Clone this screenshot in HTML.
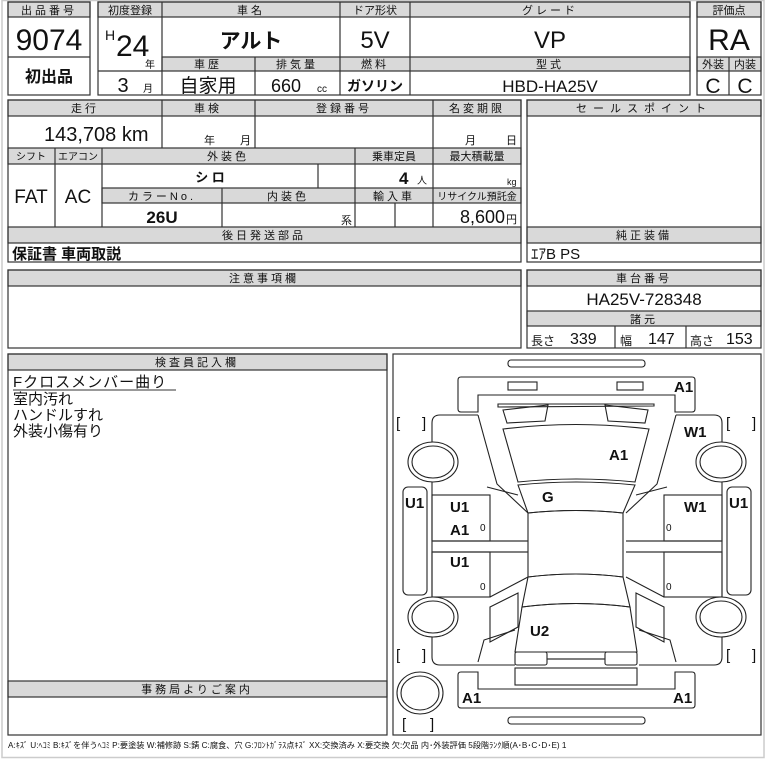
<!DOCTYPE html>
<html><head><meta charset="utf-8">
<style>
html,body{margin:0;padding:0;background:#fff;}
svg{display:block;}
text{font-family:"Liberation Sans","Noto Sans CJK JP",sans-serif;fill:#111;}
.h{fill:#d9d9d9;stroke:#333;stroke-width:1.2;}
.b{fill:none;stroke:#333;stroke-width:1.2;}
.l{stroke:#333;stroke-width:1.2;}
.d{fill:none;stroke:#222;stroke-width:1.1;}
.w{fill:#fff;stroke:#222;stroke-width:1.1;}
.s{font-size:11px;letter-spacing:3px;}
</style></head><body>
<svg width="784" height="763" viewBox="0 0 784 763" xmlns="http://www.w3.org/2000/svg">
<rect x="2" y="0.5" width="762" height="757" fill="none" stroke="#ccc" stroke-width="1.5"/>

<!-- 出品番号 -->
<rect class="h" x="8" y="2" width="82" height="15"/>
<rect class="b" x="8" y="2" width="82" height="93"/>
<line class="l" x1="8" y1="57" x2="90" y2="57"/>
<text x="49" y="14" text-anchor="middle" class="s">出品番号</text>
<text x="49" y="50" text-anchor="middle" font-size="30">9074</text>
<text x="49" y="82" text-anchor="middle" font-size="16" font-weight="bold">初出品</text>

<!-- main -->
<rect class="h" x="98" y="2" width="592" height="15"/>
<rect class="h" x="162" y="57" width="528" height="14"/>
<rect class="b" x="98" y="2" width="592" height="93"/>
<line class="l" x1="162" y1="2" x2="162" y2="95"/>
<line class="l" x1="340" y1="2" x2="340" y2="95"/>
<line class="l" x1="410" y1="2" x2="410" y2="95"/>
<line class="l" x1="255" y1="57" x2="255" y2="95"/>
<line class="l" x1="98" y1="71" x2="162" y2="71"/>
<text x="130" y="14" text-anchor="middle" font-size="11">初度登録</text>
<text x="251" y="14" text-anchor="middle" class="s">車名</text>
<text x="375" y="14" text-anchor="middle" font-size="11">ドア形状</text>
<text x="550" y="14" text-anchor="middle" class="s">グレード</text>
<text x="105" y="40" font-size="14">H</text>
<text x="116" y="56" font-size="30">24</text>
<text x="150" y="68" text-anchor="middle" font-size="10">年</text>
<text x="123" y="92" text-anchor="middle" font-size="20">3</text>
<text x="148" y="92" text-anchor="middle" font-size="10">月</text>
<text x="251" y="48" text-anchor="middle" font-size="21" font-weight="bold">アルト</text>
<text x="375" y="48" text-anchor="middle" font-size="24">5V</text>
<text x="550" y="48" text-anchor="middle" font-size="24">VP</text>
<text x="208" y="68" text-anchor="middle" class="s">車歴</text>
<text x="297" y="68" text-anchor="middle" class="s">排気量</text>
<text x="375" y="68" text-anchor="middle" class="s">燃料</text>
<text x="550" y="68" text-anchor="middle" class="s">型式</text>
<text x="208" y="92" text-anchor="middle" font-size="19">自家用</text>
<text x="286" y="92" text-anchor="middle" font-size="18">660</text>
<text x="322" y="92" text-anchor="middle" font-size="10">cc</text>
<text x="375" y="91" text-anchor="middle" font-size="14" font-weight="bold">ガソリン</text>
<text x="550" y="92" text-anchor="middle" font-size="17">HBD-HA25V</text>

<!-- 評価点 -->
<rect class="h" x="697" y="2" width="64" height="15"/>
<rect class="h" x="697" y="57" width="64" height="14"/>
<rect class="b" x="697" y="2" width="64" height="93"/>
<line class="l" x1="729" y1="57" x2="729" y2="95"/>
<text x="729" y="14" text-anchor="middle" font-size="11">評価点</text>
<text x="729" y="50" text-anchor="middle" font-size="30">RA</text>
<text x="713" y="68" text-anchor="middle" font-size="11">外装</text>
<text x="745" y="68" text-anchor="middle" font-size="11">内装</text>
<text x="713" y="93" text-anchor="middle" font-size="21">C</text>
<text x="745" y="93" text-anchor="middle" font-size="21">C</text>

<!-- section 2 left -->
<rect class="h" x="8" y="100" width="513" height="16"/>
<rect class="h" x="8" y="148" width="513" height="16"/>
<rect class="h" x="102" y="188" width="419" height="15"/>
<rect class="h" x="8" y="227" width="513" height="16"/>
<rect class="b" x="8" y="100" width="513" height="162"/>
<line class="l" x1="162" y1="100" x2="162" y2="148"/>
<line class="l" x1="255" y1="100" x2="255" y2="148"/>
<line class="l" x1="433" y1="100" x2="433" y2="227"/>
<line class="l" x1="55" y1="148" x2="55" y2="227"/>
<line class="l" x1="102" y1="148" x2="102" y2="227"/>
<line class="l" x1="355" y1="148" x2="355" y2="227"/>
<line class="l" x1="318" y1="164" x2="318" y2="188"/>
<line class="l" x1="222" y1="188" x2="222" y2="227"/>
<line class="l" x1="395" y1="203" x2="395" y2="227"/>
<text x="85" y="112" text-anchor="middle" class="s">走行</text>
<text x="208" y="112" text-anchor="middle" class="s">車検</text>
<text x="344" y="112" text-anchor="middle" class="s">登録番号</text>
<text x="477" y="112" text-anchor="middle" class="s">名変期限</text>
<text x="44" y="141" font-size="20">143,708 km</text>
<text x="204" y="144" font-size="11">年</text>
<text x="240" y="144" font-size="11">月</text>
<text x="465" y="144" font-size="11">月</text>
<text x="506" y="144" font-size="11">日</text>
<text x="31" y="160" text-anchor="middle" font-size="10">シフト</text>
<text x="78" y="160" text-anchor="middle" font-size="10">エアコン</text>
<text x="228" y="160" text-anchor="middle" class="s">外装色</text>
<text x="394" y="160" text-anchor="middle" font-size="11">乗車定員</text>
<text x="477" y="160" text-anchor="middle" font-size="11">最大積載量</text>
<text x="31" y="203" text-anchor="middle" font-size="19">FAT</text>
<text x="78" y="203" text-anchor="middle" font-size="19">AC</text>
<text x="210" y="182" text-anchor="middle" font-size="13" font-weight="bold">シ ロ</text>
<text x="399" y="184" font-size="17" font-weight="bold">4</text>
<text x="417" y="184" font-size="10">人</text>
<text x="507" y="185" font-size="9">kg</text>
<text x="162" y="200" text-anchor="middle" class="s">カラーNo.</text>
<text x="288" y="200" text-anchor="middle" class="s">内装色</text>
<text x="394" y="200" text-anchor="middle" class="s">輸入車</text>
<text x="477" y="200" text-anchor="middle" font-size="10">リサイクル預託金</text>
<text x="162" y="223" text-anchor="middle" font-size="17" font-weight="bold">26U</text>
<text x="341" y="224" font-size="11">系</text>
<text x="505" y="223" text-anchor="end" font-size="18">8,600</text>
<text x="506" y="223" font-size="11">円</text>
<text x="264" y="239" text-anchor="middle" class="s">後日発送部品</text>
<text x="12" y="259" font-size="15" font-weight="bold">保証書 車両取説</text>

<!-- section 2 right -->
<rect class="h" x="527" y="100" width="234" height="16"/>
<rect class="h" x="527" y="227" width="234" height="16"/>
<rect class="b" x="527" y="100" width="234" height="162"/>
<text x="644" y="112" text-anchor="middle" font-size="11" letter-spacing="6">セールスポイント</text>
<text x="644" y="239" text-anchor="middle" class="s">純正装備</text>
<text x="531" y="259" font-size="15">ｴｱB PS</text>

<!-- section 3 -->
<rect class="h" x="8" y="270" width="513" height="16"/>
<rect class="b" x="8" y="270" width="513" height="78"/>
<text x="264" y="282" text-anchor="middle" class="s">注意事項欄</text>
<rect class="h" x="527" y="270" width="234" height="16"/>
<rect class="h" x="527" y="311" width="234" height="15"/>
<rect class="b" x="527" y="270" width="234" height="78"/>
<line class="l" x1="615" y1="326" x2="615" y2="348"/>
<line class="l" x1="686" y1="326" x2="686" y2="348"/>
<text x="644" y="282" text-anchor="middle" class="s">車台番号</text>
<text x="644" y="305" text-anchor="middle" font-size="17">HA25V-728348</text>
<text x="644" y="323" text-anchor="middle" class="s">諸元</text>
<text x="531" y="345" font-size="12">長さ</text>
<text x="570" y="344" font-size="16">339</text>
<text x="620" y="345" font-size="12">幅</text>
<text x="648" y="344" font-size="16">147</text>
<text x="690" y="345" font-size="12">高さ</text>
<text x="726" y="344" font-size="16">153</text>

<!-- section 4 left -->
<rect class="h" x="8" y="354" width="379" height="16"/>
<rect class="h" x="8" y="681" width="379" height="16"/>
<rect class="b" x="8" y="354" width="379" height="381"/>
<text x="197" y="366" text-anchor="middle" class="s">検査員記入欄</text>
<text x="13" y="387" font-size="15" letter-spacing="1">Fクロスメンバー曲り</text>
<line x1="13" y1="390" x2="176" y2="390" stroke="#333" stroke-width="1"/>
<text x="13" y="404" font-size="15">室内汚れ</text>
<text x="13" y="420" font-size="15">ハンドルすれ</text>
<text x="13" y="436" font-size="15">外装小傷有り</text>
<text x="197" y="693" text-anchor="middle" class="s">事務局よりご案内</text>

<!-- diagram -->
<rect class="b" x="393" y="354" width="368" height="381"/>
<rect class="d" x="508" y="360" width="137" height="7" rx="3"/>
<rect class="d" x="508" y="717" width="137" height="7" rx="3"/>
<path class="d" d="M461,377 H692 Q695,377 695,380 V409 Q695,412 692,412 H675 V395 H478 V412 H461 Q458,412 458,409 V380 Q458,377 461,377 Z"/>
<rect class="d" x="508" y="382" width="29" height="8"/>
<rect class="d" x="617" y="382" width="26" height="8"/>
<path class="d" d="M461,672 H478 V689 H675 V672 H692 Q695,672 695,675 V705 Q695,708 692,708 H461 Q458,708 458,705 V675 Q458,672 461,672 Z"/>
<path class="d" d="M498,404 L654,404 L654,406 L498,407 Z"/>
<path class="d" d="M503,410 L548,405 L545,421 L507,423 Z"/>
<path class="d" d="M605,405 L648,410 L645,423 L608,421 Z"/>
<path class="d" d="M503,429 Q576,420 649,429 L635,482 Q576,476 518,482 Z"/>
<path class="d" d="M518,485 Q576,479 635,485 L623,513 Q576,508 528,513 Z"/>
<path class="d" d="M528,513 Q576,508 623,513 L623,577 Q576,571 528,577 Z"/>
<path class="d" d="M528,577 Q576,571 623,577 L630,607 Q576,600 522,607 Z"/>
<path class="d" d="M522,607 Q576,600 630,607 L637,652 L515,652 Z"/>
<rect class="d" x="515" y="652" width="32" height="13" rx="2"/>
<rect class="d" x="605" y="652" width="32" height="13" rx="2"/>
<line class="l" x1="547" y1="659" x2="605" y2="659"/>
<rect class="d" x="515" y="668" width="122" height="17"/>

<g id="half">
<path class="d" d="M478,415 H440 Q432,415 432,423 V657 Q432,665 440,665 H515"/>
<path class="d" d="M478,415 L484,437 L497,484 L528,513"/>
<path class="d" d="M487,487 L518,495"/>
<rect class="d" x="432" y="495" width="58" height="46"/>
<rect class="d" x="432" y="552" width="58" height="45"/>
<line class="l" x1="432" y1="541" x2="528" y2="541"/>
<line class="l" x1="432" y1="552" x2="528" y2="552"/>
<path class="d" d="M490,597 L528,577"/>
<path class="d" d="M490,607 L518,593 L518,627 L490,642 Z"/>
<path class="d" d="M478,662 L484,640 L515,630"/>
<rect class="w" x="403" y="487" width="24" height="108" rx="5"/>
<ellipse class="w" cx="433" cy="462" rx="25" ry="20"/>
<ellipse class="d" cx="433" cy="462" rx="21" ry="16"/>
<ellipse class="w" cx="433" cy="617" rx="25" ry="20"/>
<ellipse class="d" cx="433" cy="617" rx="21" ry="16"/>
</g>
<use href="#half" transform="translate(1154,0) scale(-1,1)"/>
<ellipse class="w" cx="420" cy="693" rx="23" ry="21"/>
<ellipse class="d" cx="420" cy="693" rx="19" ry="17"/>

<g font-size="15">
<text x="396" y="428">[</text><text x="422" y="428">]</text>
<text x="726" y="428">[</text><text x="752" y="428">]</text>
<text x="396" y="660">[</text><text x="422" y="660">]</text>
<text x="726" y="660">[</text><text x="752" y="660">]</text>
<text x="402" y="729">[</text><text x="430" y="729">]</text>
</g>
<g font-size="15" font-weight="bold">
<text x="674" y="392">A1</text>
<text x="609" y="460">A1</text>
<text x="684" y="437">W1</text>
<text x="542" y="502">G</text>
<text x="405" y="508">U1</text>
<text x="729" y="508">U1</text>
<text x="450" y="512">U1</text>
<text x="450" y="535">A1</text>
<text x="450" y="567">U1</text>
<text x="684" y="512">W1</text>
<text x="530" y="636">U2</text>
<text x="462" y="703">A1</text>
<text x="673" y="703">A1</text>
</g>
<g font-size="10">
<text x="480" y="531">0</text><text x="480" y="590">0</text>
<text x="666" y="531">0</text><text x="666" y="590">0</text>
</g>

<text x="8" y="748" font-size="8.2">A:ｷｽﾞ U:ﾍｺﾐ B:ｷｽﾞを伴うﾍｺﾐ P:要塗装 W:補修跡 S:錆 C:腐食、穴 G:ﾌﾛﾝﾄｶﾞﾗｽ点ｷｽﾞ XX:交換済み X:要交換 欠:欠品 内･外装評価 5段階ﾗﾝｸ順(A･B･C･D･E) 1</text>
</svg>
</body></html>
